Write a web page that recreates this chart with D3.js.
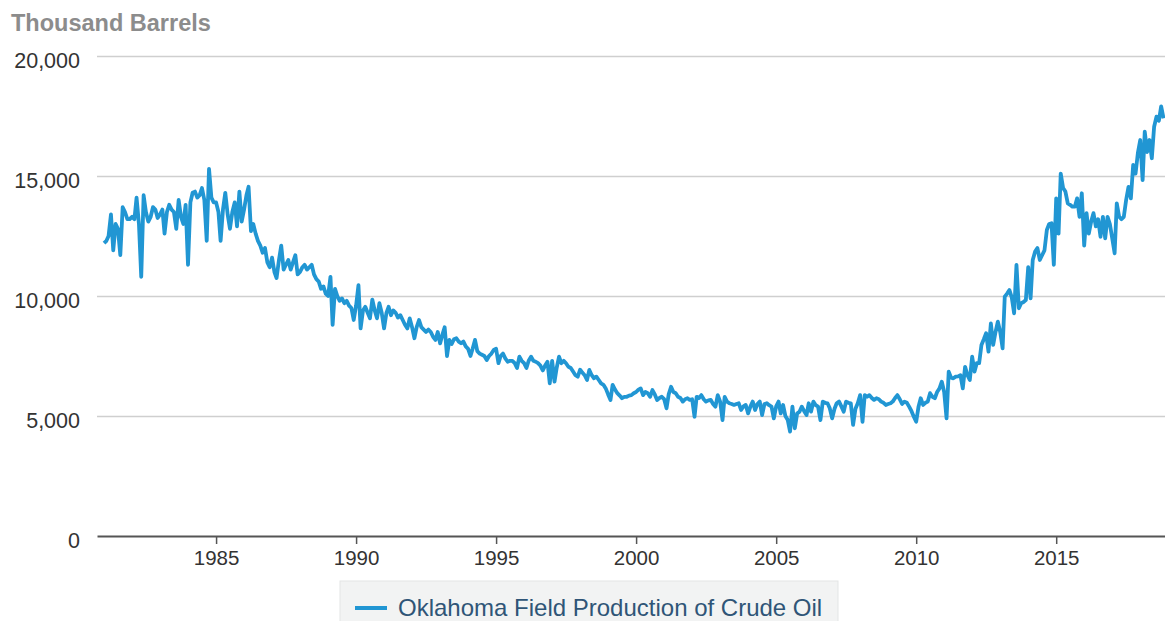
<!DOCTYPE html>
<html>
<head>
<meta charset="utf-8">
<script src="https://cdn.jsdelivr.net/npm/d3@7"></script>
<style>
  html, body { margin: 0; padding: 0; background: #fff; }
  svg { display: block; font-family: "Liberation Sans", Arial, Helvetica, sans-serif; }
</style>
</head>
<body>
<svg id="chart" width="1165" height="621"></svg>
<script>
// Monthly production, thousand barrels, starting January 1981
const values1980s = [
	12200, 12300, 12500, 13400, 11900, 13000, 12800, 11700, 13700, 13500, 13200, 13200, // 1981
	13300, 13200, 14100, 13000, 10800, 14200, 13500, 13100, 13300, 13700, 13600, 13250, // 1982
	13400, 13600, 12600, 13500, 13800, 13600, 13500, 12800, 14000, 13300, 13000, 13800, // 1983
	11300, 13900, 14300, 14350, 14100, 14200, 14500, 14000, 12300, 15300, 14100, 13900, // 1984
	13900, 13500, 12300, 13600, 14300, 13400, 12800, 13500, 13900, 12900, 14350, 13100, // 1985
	13600, 14200, 14550, 12700, 13000, 12600, 12300, 12100, 11800, 12000, 11400, 11200, // 1986
	11600, 11000, 10750, 11500, 12100, 11100, 11300, 11500, 11100, 11400, 11700, 10900, // 1987
	11000, 11200, 11300, 11100, 11200, 11300, 10900, 10700, 10600, 10300, 10400, 10100, // 1988
	10000, 10800, 8800, 10300, 10000, 9800, 9900, 9700, 9800, 9600, 9500, 9000         // 1989
];
const values1990s = [
	9600, 10450, 8650, 9400, 9550, 9300, 9070, 9850, 9400, 9070, 9700, 9300,  // 1990
	8650, 9300, 9550, 9200, 9400, 9300, 9100, 9200, 9000, 8800, 8650, 9070,   // 1991
	8700, 8240, 8700, 9000, 8700, 8600, 8500, 8600, 8500, 8300, 8170, 8500,   // 1992
	8030, 8400, 8700, 7500, 8170, 8000, 8200, 8240, 8100, 8030, 8100, 7900,   // 1993
	7800, 7500, 7800, 8170, 7700, 7600, 7550, 7500, 7330, 7500, 7600, 7750,   // 1994
	7800, 7200, 7500, 7600, 7400, 7260, 7300, 7300, 7200, 7000, 7470, 7300,   // 1995
	7200, 7000, 7300, 7470, 7300, 7260, 7200, 7100, 6900, 7100, 7260, 6360,   // 1996
	7300, 6430, 7000, 7470, 7200, 7300, 7200, 7050, 7000, 6850, 6700, 6640,   // 1997
	6930, 6800, 6700, 6500, 6920, 6700, 6570, 6640, 6500, 6360, 6300, 6150,   // 1998
	5900, 5670, 6300, 6100, 5950, 5850, 5740, 5800, 5800, 5850, 5870, 5950    // 1999
];
const values2000s = [
	6000, 6100, 6150, 5870, 6000, 5950, 5800, 6080, 5900, 5670, 5750, 5800,   // 2000
	5700, 5320, 5900, 6220, 6000, 5950, 5800, 5750, 5600, 5700, 5740, 5670,   // 2001
	5700, 4970, 5800, 5750, 5870, 5700, 5600, 5650, 5670, 5500, 5390, 5870,   // 2002
	5600, 4830, 5800, 5600, 5530, 5500, 5460, 5500, 5530, 5250, 5400, 5460,   // 2003
	5110, 5400, 5600, 5250, 5500, 5600, 5040, 5500, 5530, 5450, 5390, 4900,   // 2004
	5400, 5600, 5110, 5460, 5000, 4830, 4350, 5390, 4490, 5100, 5180, 5390,   // 2005
	5200, 5040, 5530, 5180, 5600, 5450, 5390, 4830, 5600, 5550, 5530, 5320,   // 2006
	4900, 5300, 5530, 5600, 5400, 5180, 5600, 5550, 5530, 4630, 5300, 5530,   // 2007
	5870, 4760, 5870, 5800, 5870, 5750, 5670, 5740, 5700, 5600, 5550, 5460,   // 2008
	5500, 5530, 5600, 5750, 5870, 5700, 5500, 5600, 5550, 5390, 5200, 4970    // 2009
];
const values2010s = [
	4760, 5400, 5740, 5460, 5550, 5600, 5950, 5800, 5740, 6000, 6150, 6430,              // 2010
	6000, 4900, 6850, 6600, 6570, 6640, 6650, 6700, 6150, 7050, 6700, 6500,              // 2011
	7470, 6850, 7200, 7200, 7960, 8200, 8450, 7680, 8860, 7960, 8500, 8930,              // 2012
	8500, 7820, 9970, 10100, 10250, 9930, 9280, 11300, 9490, 9700, 9750, 9830,           // 2013
	11200, 9900, 11500, 11850, 12000, 11500, 11700, 11900, 12750, 13000, 13030, 11300,   // 2014
	14070, 12600, 15100, 14500, 14350, 13860, 13800, 13720, 13720, 14070, 13300, 14280,  // 2015
	12100, 13450, 12600, 13100, 13450, 12900, 13200, 12470, 13300, 12400, 13300, 13000,  // 2016
	12400, 11780, 13860, 13300, 13200, 13300, 14000, 14550, 14070, 15460, 15100, 15950,  // 2017
	16500, 14830, 16850, 16000, 16500, 15740, 17050, 17470, 17300, 17900, 17400          // 2018
];

const yTicks = [0, 5000, 10000, 15000, 20000];
const xTickYears = [1985, 1990, 1995, 2000, 2005, 2010, 2015];
const seriesName = "Oklahoma Field Production of Crude Oil";
const unitLabel = "Thousand Barrels";

const lineColor = "#2196d3";

const allValues = [...values1980s, ...values1990s, ...values2000s, ...values2010s];
const data = allValues.map((v, i) => ({ date: new Date(1981, i, 1), value: v }));

const svg = d3.select("#chart");
const width = 1165;
const height = 621;
const margin = { top: 56, right: 0, bottom: 85, left: 97 };

svg.append("rect").attr("width", width).attr("height", height).attr("fill", "#fff");

const x = d3.scaleTime()
	.domain([new Date(1980, 9, 1), new Date(2018, 10, 20)])
	.range([margin.left, width - margin.right]);

const y = d3.scaleLinear()
	.domain([0, 20000])
	.range([height - margin.bottom, margin.top]);

// unit title
svg.append("text")
	.attr("x", 11)
	.attr("y", 31)
	.attr("font-size", 23.5)
	.attr("font-weight", "bold")
	.attr("fill", "#8c8c8c")
	.text(unitLabel);

// gridlines + y labels
const yAxis = d3.axisLeft(y)
	.tickValues(yTicks)
	.tickSize(-(width - margin.left - margin.right))
	.tickPadding(17)
	.tickFormat(d3.format(","));

const gy = svg.append("g")
	.attr("transform", `translate(${margin.left},0)`)
	.call(yAxis);
gy.select(".domain").remove();
gy.selectAll(".tick line")
	.attr("stroke", "#cfcfcf")
	.attr("stroke-width", 1.5)
	.filter(d => d === 0).remove();
gy.selectAll(".tick text")
	.attr("font-size", 21.5)
	.attr("fill", "#333")
	.attr("dy", "0.52em")
	.attr("font-family", null);

// x axis
const xAxis = d3.axisBottom(x)
	.tickValues(xTickYears.map(yr => new Date(yr, 0, 1)))
	.tickSize(8)
	.tickPadding(6)
	.tickSizeOuter(0)
	.tickFormat(d3.timeFormat("%Y"));

const gx = svg.append("g")
	.attr("transform", `translate(0,${y(0)})`)
	.call(xAxis);
gx.select(".domain").attr("stroke", "#555").attr("stroke-width", 2);
gx.selectAll(".tick line").attr("stroke", "#555").attr("stroke-width", 1.5);
gx.selectAll(".tick text")
	.attr("font-size", 20.5)
	.attr("fill", "#333")
	.attr("font-family", null);

// series line
const line = d3.line()
	.x(d => x(d.date))
	.y(d => y(d.value));

svg.append("path")
	.datum(data)
	.attr("fill", "none")
	.attr("stroke", lineColor)
	.attr("stroke-width", 3.8)
	.attr("stroke-linejoin", "round")
	.attr("d", line);

// legend
const legend = svg.append("g").attr("transform", "translate(340,581)");
legend.append("rect")
	.attr("width", 498)
	.attr("height", 60)
	.attr("fill", "#f2f3f3")
	.attr("stroke", "#e3e5e5")
	.attr("stroke-width", 1);
legend.append("line")
	.attr("x1", 15).attr("x2", 47)
	.attr("y1", 27).attr("y2", 27)
	.attr("stroke", lineColor)
	.attr("stroke-width", 4);
legend.append("text")
	.attr("x", 58)
	.attr("y", 35)
	.attr("font-size", 24)
	.attr("fill", "#2f5577")
	.text(seriesName);
</script>
</body>
</html>
